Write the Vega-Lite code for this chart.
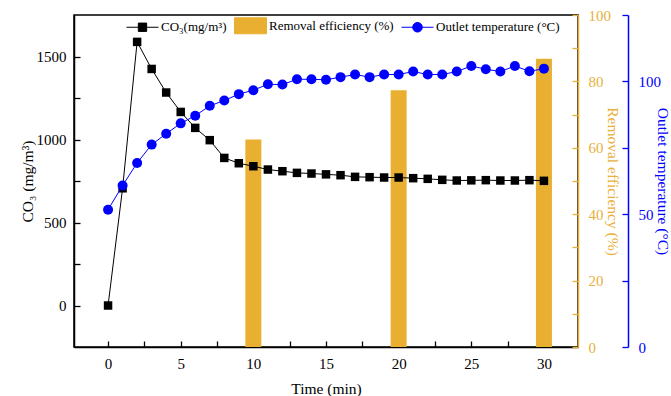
{
  "$schema": "https://vega.github.io/schema/vega-lite/v6.json",
  "width": 504,
  "height": 332,
  "autosize": {"type": "none"},
  "padding": {"left": 74, "top": 15, "right": 93, "bottom": 49},
  "background": "white",
  "config": {
    "view": {"stroke": "black", "strokeWidth": 1.5},
    "font": "Liberation Serif",
    "style": {"guide-title": {"fontWeight": "normal"}},
    "axis": {
      "labelFont": "Liberation Serif", "titleFont": "Liberation Serif",
      "labelFontSize": 15, "titleFontSize": 15.5, "titleFontWeight": "normal",
      "grid": false, "tickSize": -6, "domainWidth": 1.5, "tickWidth": 1.3,
      "labelPadding": 14, "domainColor": "black", "tickColor": "black",
      "labelColor": "black", "titleColor": "black", "labelFlush": false, "labelOverlap": false
    },
    "legend": {
      "labelFont": "Liberation Serif", "labelFontSize": 13, "labelColor": "black"
    }
  },
  "datasets": {
    "ozone": [
      {"t": 0, "c": 0}, {"t": 1, "c": 706}, {"t": 2, "c": 1588}, {"t": 3, "c": 1425},
      {"t": 4, "c": 1283}, {"t": 5, "c": 1166}, {"t": 6, "c": 1070}, {"t": 7, "c": 996},
      {"t": 8, "c": 889}, {"t": 9, "c": 857}, {"t": 10, "c": 839}, {"t": 11, "c": 819},
      {"t": 12, "c": 809}, {"t": 13, "c": 799}, {"t": 14, "c": 795}, {"t": 15, "c": 790},
      {"t": 16, "c": 785}, {"t": 17, "c": 775}, {"t": 18, "c": 773}, {"t": 19, "c": 771},
      {"t": 20, "c": 771}, {"t": 21, "c": 767}, {"t": 22, "c": 763}, {"t": 23, "c": 757},
      {"t": 24, "c": 753}, {"t": 25, "c": 754}, {"t": 26, "c": 755}, {"t": 27, "c": 753},
      {"t": 28, "c": 753}, {"t": 29, "c": 755}, {"t": 30, "c": 751}
    ],
    "temp": [
      {"t": 0, "T": 51.7}, {"t": 1, "T": 60.8}, {"t": 2, "T": 69.3}, {"t": 3, "T": 76.2},
      {"t": 4, "T": 80.3}, {"t": 5, "T": 84.2}, {"t": 6, "T": 87.1}, {"t": 7, "T": 90.8},
      {"t": 8, "T": 92.8}, {"t": 9, "T": 95.2}, {"t": 10, "T": 96.7}, {"t": 11, "T": 98.9},
      {"t": 12, "T": 98.8}, {"t": 13, "T": 100.8}, {"t": 14, "T": 100.8}, {"t": 15, "T": 100.6},
      {"t": 16, "T": 101.6}, {"t": 17, "T": 102.6}, {"t": 18, "T": 101.6}, {"t": 19, "T": 102.6},
      {"t": 20, "T": 102.6}, {"t": 21, "T": 103.7}, {"t": 22, "T": 102.6}, {"t": 23, "T": 102.6},
      {"t": 24, "T": 103.7}, {"t": 25, "T": 105.8}, {"t": 26, "T": 104.6}, {"t": 27, "T": 103.7},
      {"t": 28, "T": 105.8}, {"t": 29, "T": 103.8}, {"t": 30, "T": 104.8}
    ],
    "removal": [
      {"t": 10, "r": 62.5}, {"t": 20, "r": 77.3}, {"t": 30, "r": 86.8}
    ],
    "series": [
      {"s": "CO₃(mg/m³)"}, {"s": "Removal efficiency (%)"}, {"s": "Outlet temperature (°C)"}
    ]
  },
  "layer": [
    {
      "data": {"name": "removal"},
      "mark": {"type": "bar", "size": 16, "color": "#E8AF30"},
      "encoding": {
        "x": {"field": "t", "type": "quantitative", "scale": {"domain": [-2, 32], "nice": false, "zero": false},
          "axis": {"title": "Time (min)", "titleFontWeight": "normal", "values": [0, 2.5, 5, 7.5, 10, 12.5, 15, 17.5, 20, 22.5, 25, 27.5, 30],
            "labelExpr": "datum.value % 5 == 0 ? datum.label : ''", "labelPadding": 15, "titlePadding": 10}},
        "y": {"field": "r", "type": "quantitative", "scale": {"domain": [0, 100], "nice": false},
          "axis": {"orient": "right", "title": "Removal efficiency (%)", "titleFontWeight": "normal", "values": [0, 10, 20, 30, 40, 50, 60, 70, 80, 90, 100],
            "labelExpr": "datum.value % 20 == 0 ? datum.label : ''", "domainColor": "#E8AF30", "tickColor": "#E8AF30",
            "labelColor": "#E8B03A", "titleColor": "#E8B03A", "labelPadding": 16, "titlePadding": -6}}
      }
    },
    {
      "data": {"name": "ozone"},
      "mark": {"type": "line", "color": "black", "strokeWidth": 1,
        "point": {"shape": "square", "size": 72, "filled": true, "color": "black", "opacity": 1}},
      "encoding": {
        "x": {"field": "t", "type": "quantitative", "scale": {"domain": [-2, 32], "nice": false, "zero": false},
          "axis": {"title": "Time (min)", "titleFontWeight": "normal", "values": [0, 2.5, 5, 7.5, 10, 12.5, 15, 17.5, 20, 22.5, 25, 27.5, 30],
            "labelExpr": "datum.value % 5 == 0 ? datum.label : ''", "labelPadding": 15, "titlePadding": 10}},
        "y": {"field": "c", "type": "quantitative", "scale": {"domain": [-250, 1750], "nice": false, "zero": false},
          "axis": {"orient": "left", "title": "CO₃ (mg/m³)", "titleFontWeight": "normal", "format": "d", "values": [0, 250, 500, 750, 1000, 1250, 1500],
            "labelExpr": "datum.value % 500 == 0 ? datum.label : ''", "titlePadding": 1}}
      }
    },
    {
      "data": {"name": "temp"},
      "mark": {"type": "line", "color": "#0000FF", "strokeWidth": 1,
        "point": {"shape": "circle", "size": 100, "filled": true, "color": "#0000FF", "opacity": 1}},
      "encoding": {
        "x": {"field": "t", "type": "quantitative", "scale": {"domain": [-2, 32], "nice": false, "zero": false},
          "axis": {"title": "Time (min)", "titleFontWeight": "normal", "values": [0, 2.5, 5, 7.5, 10, 12.5, 15, 17.5, 20, 22.5, 25, 27.5, 30],
            "labelExpr": "datum.value % 5 == 0 ? datum.label : ''", "labelPadding": 15, "titlePadding": 10}},
        "y": {"field": "T", "type": "quantitative", "scale": {"domain": [0, 125], "nice": false},
          "axis": {"orient": "right", "offset": 50, "title": "Outlet temperature (°C)", "titleFontWeight": "normal", "values": [0, 25, 50, 75, 100, 125],
            "labelExpr": "datum.value % 50 == 0 ? datum.label : ''", "domainColor": "#0000FF", "tickColor": "#0000FF",
            "labelColor": "#0000FF", "titleColor": "#0000FF", "labelPadding": 16, "titlePadding": -6}}
      }
    },
    {
      "data": {"name": "series"},
      "mark": {"type": "point", "filled": true, "opacity": 0},
      "encoding": {
        "fill": {"field": "s", "type": "nominal",
          "scale": {"domain": ["CO₃(mg/m³)", "Removal efficiency (%)", "Outlet temperature (°C)"], "range": ["black", "#E8AF30", "#0000FF"]},
          "legend": {"orient": "none", "legendX": 52, "legendY": -6, "direction": "horizontal", "title": null,
            "symbolSize": 1024, "symbolStrokeWidth": 1, "labelOffset": 2, "columnPadding": 5, "symbolOpacity": 1}},
        "stroke": {"field": "s", "type": "nominal",
          "scale": {"domain": ["CO₃(mg/m³)", "Removal efficiency (%)", "Outlet temperature (°C)"], "range": ["black", "#E8AF30", "#0000FF"]},
          "legend": {"orient": "none", "legendX": 52, "legendY": -6, "direction": "horizontal", "title": null,
            "symbolSize": 1024, "symbolStrokeWidth": 1, "labelOffset": 2, "columnPadding": 5, "symbolOpacity": 1}},
        "shape": {"field": "s", "type": "nominal",
          "scale": {"domain": ["CO₃(mg/m³)", "Removal efficiency (%)", "Outlet temperature (°C)"],
            "range": ["M-1,0H1M-0.26,-0.26H0.26V0.26H-0.26Z", "M-1,-0.5H1V0.5H-1Z", "M-1,0H1M0.3,0A0.3,0.3,0,1,1,-0.3,0A0.3,0.3,0,1,1,0.3,0Z"]},
          "legend": {"orient": "none", "legendX": 52, "legendY": -6, "direction": "horizontal", "title": null,
            "symbolSize": 1024, "symbolStrokeWidth": 1, "labelOffset": 2, "columnPadding": 5, "symbolOpacity": 1}}
      }
    }
  ],
  "resolve": {"scale": {"y": "independent"}}
}
